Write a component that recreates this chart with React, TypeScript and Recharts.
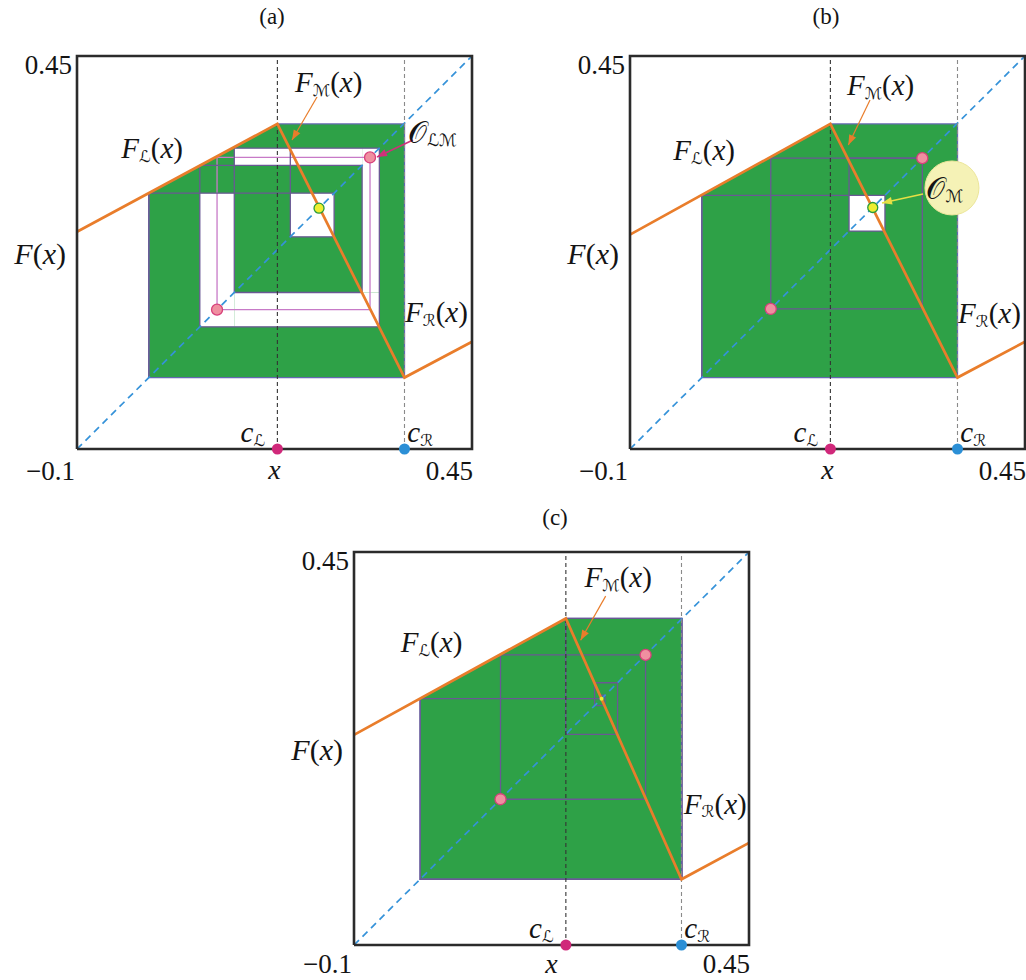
import React from 'react';
import { ComposedChart, XAxis, YAxis, Line, Area, Scatter } from 'recharts';

const DOMAIN: [number, number] = [-0.1, 0.45];
const xTicks = [-0.1, 0.45];
const yTicks = [0.45];

// ---- panel (a) ----
// graph vertices at x = -0.1, c_L, c_R, 0.45
const graphXA = [-0.1, 0.179, 0.356, 0.45];
const graphYA = [0.204, 0.355, 0.0, 0.05];
const bordersA = [0.179, 0.356]; // c_L, c_R
const absorbA = [0.0, 0.258, 0.355]; // F(c_R), F_L(F(c_R)), F(c_L)
const gapsA = [
  [0.197, 0.258, 0.197, 0.258],
  [0.071, 0.119, 0.071, 0.258],
  [0.119, 0.321, 0.071, 0.119],
  [0.297, 0.321, 0.119, 0.321],
  [0.119, 0.297, 0.297, 0.321],
];
const orbitA = [0.0, 0.258, 0.197, 0.321, 0.071, 0.297, 0.119, 0.321];
const cycleA = [0.095, 0.308];
const fixedA = [0.237];

// ---- panel (b) ----
const graphXB = [-0.1, 0.179, 0.356, 0.45];
const graphYB = [0.2, 0.355, 0.0, 0.05];
const bordersB = [0.179, 0.356];
const absorbB = [0.0, 0.2556, 0.355];
const gapsB = [[0.205, 0.255, 0.205, 0.255]];
const orbitB = [0.0, 0.255, 0.205, 0.307];
const cycleB = [0.096, 0.307];
const fixedB = [0.238];

// ---- panel (c) ----
const graphXC = [-0.1, 0.195, 0.356, 0.45];
const graphYC = [0.194, 0.357, -0.008, 0.043];
const bordersC = [0.195, 0.356];
const absorbC = [-0.008, 0.2447, 0.357];
const gapsC: number[][] = [];
const orbitC = [0.2426, 0.2495, 0.235, 0.267, 0.1947, 0.357, -0.008, 0.2447];
const cycleC = [0.104, 0.306];
const fixedC = [0.2447];

// annotation anchors, in axis units
const notesA = {
  fm: [0.2036, 0.4136], fmArrow: [0.2342, 0.3927, 0.1994, 0.3325],
  fl: [0.0476, 0.3213], fr: [0.3567, 0.0917],
  orb: [0.3609, 0.3437], orbArrow: [0.3678, 0.3325, 0.3177, 0.3087],
};
const notesB = {
  fm: [0.2021, 0.4094], fmArrow: [0.2342, 0.3885, 0.204, 0.3255],
  fl: [0.0462, 0.3185], fr: [0.3567, 0.0903],
  orb: [0.3128, 0.2653], orbArrow: [0.308, 0.2569, 0.2509, 0.2443],
  halo: [0.3483, 0.2653],
};
const notesC = {
  fm: [0.221, 0.415], fmArrow: [0.2504, 0.3883, 0.2155, 0.3266],
  fl: [0.0508, 0.3237], fr: [0.3592, 0.0978],
};

const FONT = "'Liberation Serif', 'DejaVu Serif', 'Times New Roman', serif";
const SCRIPT = "'DejaVu Serif', 'DejaVu Sans', serif";

const C = {
  green: '#2ea147',
  outline: '#6468b0',
  web: '#6a5894',
  webPink: '#c77ac7',
  orange: '#e97d2b',
  diag: '#3592d9',
  frame: '#2b2b2b',
  pinkFill: '#ef8fa0',
  pinkStroke: '#d8407a',
  yellow: '#eeee30',
  yellowStroke: '#2b9a3b',
  cL: '#d0287a',
  cR: '#2b8fd6',
  ink: '#141414',
};

type MathProps = {
  x: number; y: number; base: string; sub?: string; arg?: boolean;
  anchor?: 'start' | 'middle' | 'end'; size?: number; italic?: boolean; baseFont?: string;
};

function MathText({ x, y, base, sub, arg, anchor = 'start', size = 29, italic = true, baseFont }: MathProps) {
  const shift = size * 0.27;
  return (
    <text x={x} y={y} textAnchor={anchor} dominantBaseline="central" fontFamily={FONT} fontSize={size} fill={C.ink}>
      <tspan fontStyle={italic ? 'italic' : 'normal'} fontFamily={baseFont || FONT}>{base}</tspan>
      {sub ? (
        <tspan fontFamily={SCRIPT} fontSize={size * 0.56} dy={shift}>{sub}</tspan>
      ) : null}
      {arg ? (
        <>
          <tspan dy={sub ? -shift : 0}>(</tspan>
          <tspan fontStyle="italic">x</tspan>
          <tspan>)</tspan>
        </>
      ) : null}
    </text>
  );
}

const fmtTick = (v: number) => (v < 0 ? '\u2212' + Math.abs(v) : String(v));

const makeXTick = (dy: number) => (p: any) => {
  const v = p.payload.value;
  return (
    <text x={p.x + (v < 0 ? -2 : 1)} y={p.y + dy} textAnchor="end" dominantBaseline="central"
      fontFamily={FONT} fontSize={27} fill={C.ink}>{fmtTick(v)}</text>
  );
};

const yTick = (p: any) => (
  <text x={p.x - 5} y={p.y + 9} textAnchor="end" dominantBaseline="central"
    fontFamily={FONT} fontSize={27} fill={C.ink}>{fmtTick(p.payload.value)}</text>
);

const makeXLabel = (dy: number) => (p: any) => {
  const vb = p.viewBox || {};
  return (
    <text x={vb.x + vb.width / 2} y={vb.y + dy} textAnchor="middle" dominantBaseline="central"
      fontFamily={FONT} fontStyle="italic" fontSize={28} fill={C.ink}>x</text>
  );
};

const yLabel = (p: any) => {
  const vb = p.viewBox || {};
  return <MathText x={vb.x + vb.width - 11} y={vb.y + vb.height / 2} base="F" arg anchor="end" size={30} />;
};

function cobweb(orbit: number[]) {
  const pts = [{ x: orbit[0], y: orbit[0] }];
  for (let i = 0; i < orbit.length - 1; i++) {
    pts.push({ x: orbit[i], y: orbit[i + 1] });
    pts.push({ x: orbit[i + 1], y: orbit[i + 1] });
  }
  return pts;
}

function cycleSquare([a, b]: number[]) {
  return [
    { x: a, y: a }, { x: a, y: b }, { x: b, y: b }, { x: b, y: a }, { x: a, y: a },
  ];
}

function arrow(a: number[]) {
  const [x0, y0, x1, y1] = a;
  return {
    shaft: [{ x: x0, y: y0 }, { x: x1, y: y1 }],
    head: [{ x: x1, y: y1, ang: Math.atan2(-(y1 - y0), x1 - x0) }],
  };
}

const headShape = (color: string) => (p: any) => {
  const { cx, cy } = p;
  const a = (p.payload || p).ang;
  const L = 10, Wd = 3.8;
  const bx = cx - L * Math.cos(a), by = cy - L * Math.sin(a);
  const pts = `${cx},${cy} ${bx + Wd * Math.sin(a)},${by - Wd * Math.cos(a)} ${bx - Wd * Math.sin(a)},${by + Wd * Math.cos(a)}`;
  return <polygon points={pts} fill={color} stroke="none" />;
};

const dotShape = (fill: string, stroke: string, r: number, sw = 1.3) => (p: any) => (
  <circle cx={p.cx} cy={p.cy} r={r} fill={fill} stroke={stroke} strokeWidth={sw} />
);

const labelShape = (p: any) => {
  const d = p.payload || p;
  return (
    <MathText x={p.cx} y={p.cy} base={d.base} sub={d.sub} arg={d.arg} anchor={d.anchor}
      size={d.size} italic={d.italic !== false} baseFont={d.baseFont} />
  );
};

type PanelProps = {
  left: number; top: number; width: number; height: number; rightMargin: number; bottomMargin: number;
  tickDy: number; xLabelDy: number;
  title: string; titleX: number; titleY: number;
  graphX: number[]; graphY: number[]; borders: number[]; absorb: number[]; gaps: number[][];
  orbit: number[]; cycle: number[]; fixed: number[]; cycleColor: string; fixedR: number;
  notes: any; orbitLabel?: { sub: string; color: string };
};

function Panel(props: PanelProps) {
  const { graphX, graphY, borders, absorb, gaps, orbit, cycle, fixed, notes } = props;
  const [cL, cR] = borders;
  const [lo, leftTop, hi] = absorb;
  const graph = graphX.map((x, i) => ({ x, y: graphY[i] }));
  const green = [{ x: lo, y: [lo, leftTop] }, { x: cL, y: [lo, hi] }, { x: cR, y: [lo, hi] }];
  const outline = [{ x: cL, y: hi }, { x: cR, y: hi }, { x: cR, y: lo }, { x: lo, y: lo }, { x: lo, y: leftTop }];
  const holes = gaps.map(([x1, x2, y1, y2]) => [{ x: x1, y: [y1, y2] }, { x: x2, y: [y1, y2] }]);
  const web = cobweb(orbit);
  const square = cycleSquare(cycle);
  const diag = [{ x: DOMAIN[0], y: DOMAIN[0] }, { x: DOMAIN[1], y: DOMAIN[1] }];
  const vL = [{ x: cL, y: DOMAIN[0] }, { x: cL, y: DOMAIN[1] }];
  const vR = [{ x: cR, y: DOMAIN[0] }, { x: cR, y: DOMAIN[1] }];
  const frame = [
    { x: DOMAIN[0], y: DOMAIN[0] }, { x: DOMAIN[1], y: DOMAIN[0] }, { x: DOMAIN[1], y: DOMAIN[1] },
    { x: DOMAIN[0], y: DOMAIN[1] }, { x: DOMAIN[0], y: DOMAIN[0] },
  ];
  const fmA = arrow(notes.fmArrow);
  const orbA = notes.orbArrow ? arrow(notes.orbArrow) : null;
  const cyclePts = cycle.map((v) => ({ x: v, y: v }));
  const fixedPts = fixed.map((v) => ({ x: v, y: v }));
  const labels: any[] = [
    { x: notes.fm[0], y: notes.fm[1], base: 'F', sub: '\u2133', arg: true, anchor: 'start', size: 29 },
    { x: notes.fl[0], y: notes.fl[1], base: 'F', sub: '\u2112', arg: true, anchor: 'end', size: 29 },
    { x: notes.fr[0], y: notes.fr[1], base: 'F', sub: '\u211B', arg: true, anchor: 'start', size: 29 },
    { x: cL - 0.017, y: -0.0765, base: 'c', sub: '\u2112', anchor: 'end', size: 29 },
    { x: cR + 0.004, y: -0.0765, base: 'c', sub: '\u211B', anchor: 'start', size: 29 },
  ];
  if (props.orbitLabel) {
    labels.push({
      x: notes.orb[0], y: notes.orb[1], base: '\uD835\uDCAA', sub: props.orbitLabel.sub,
      anchor: 'start', size: 30, italic: false, baseFont: "'DejaVu Sans', 'DejaVu Serif', serif",
    });
  }
  const noLine = { dot: false as const, activeDot: false as const, isAnimationActive: false, type: 'linear' as const };

  return (
    <div style={{ position: 'absolute', left: props.left, top: props.top }}>
      <div style={{
        position: 'absolute', left: props.titleX - 40, top: props.titleY - 13, width: 80, height: 26,
        textAlign: 'center', lineHeight: '26px', fontFamily: FONT, fontSize: 23, color: C.ink,
      }}>{props.title}</div>
      <ComposedChart width={props.width} height={props.height}
        margin={{ top: 56, right: props.rightMargin, bottom: props.bottomMargin, left: 17 }}>
        <XAxis type="number" dataKey="x" domain={DOMAIN} ticks={xTicks} interval={0} tick={makeXTick(props.tickDy)}
          tickLine={false} axisLine={false} tickSize={0} tickMargin={0} height={30}
          label={{ content: makeXLabel(props.xLabelDy) }} />
        <YAxis type="number" dataKey="y" domain={DOMAIN} ticks={yTicks} interval={0} tick={yTick}
          tickLine={false} axisLine={false} tickSize={0} tickMargin={0} width={60}
          label={{ content: yLabel }} />

        <Area data={green} dataKey="y" type="linear" fill={C.green} fillOpacity={1} stroke="none"
          isAnimationActive={false} activeDot={false} dot={false} />
        {holes.map((h, i) => (
          <Area key={`hole-${i}`} data={h} dataKey="y" type="linear" fill="#ffffff" fillOpacity={1}
            stroke="none" isAnimationActive={false} activeDot={false} dot={false} />
        ))}

        <Line data={outline} dataKey="y" stroke={C.outline} strokeWidth={1.3} {...noLine} />
        <Line data={square} dataKey="y" stroke={props.cycleColor} strokeWidth={1.3} {...noLine} />
        <Line data={web} dataKey="y" stroke={C.web} strokeWidth={1.3} {...noLine} />
        <Line data={diag} dataKey="y" stroke={C.diag} strokeWidth={1.7} strokeDasharray="7 5" {...noLine} />
        <Line data={vL} dataKey="y" stroke="#333333" strokeWidth={1.1} strokeDasharray="4 3" {...noLine} />
        <Line data={vR} dataKey="y" stroke="#8a8a8a" strokeWidth={1.1} strokeDasharray="4 3" {...noLine} />
        <Line data={graph} dataKey="y" stroke={C.orange} strokeWidth={2.7} {...noLine} />
        <Line data={fmA.shaft} dataKey="y" stroke={C.orange} strokeWidth={1.2} {...noLine} />
        {orbA && props.orbitLabel ? (
          <Line data={orbA.shaft} dataKey="y" stroke={props.orbitLabel.color} strokeWidth={1.6} {...noLine} />
        ) : null}
        <Line data={frame} dataKey="y" stroke={C.frame} strokeWidth={2.6} strokeLinejoin="miter" {...noLine} />

        {notes.halo ? (
          <Scatter data={[{ x: notes.halo[0], y: notes.halo[1] }]} isAnimationActive={false}
            shape={dotShape('#f5f2b6', '#ece69a', 27, 1)} />
        ) : null}
        <Scatter data={fmA.head} isAnimationActive={false} shape={headShape(C.orange)} />
        {orbA && props.orbitLabel ? (
          <Scatter data={orbA.head} isAnimationActive={false} shape={headShape(props.orbitLabel.color)} />
        ) : null}
        <Scatter data={cyclePts} isAnimationActive={false} shape={dotShape(C.pinkFill, C.pinkStroke, 5.5)} />
        <Scatter data={fixedPts} isAnimationActive={false}
          shape={dotShape(C.yellow, C.yellowStroke, props.fixedR, props.fixedR > 3 ? 1.3 : 0)} />
        <Scatter data={[{ x: cL, y: DOMAIN[0] }]} isAnimationActive={false} shape={dotShape(C.cL, C.cL, 5.5, 0)} />
        <Scatter data={[{ x: cR, y: DOMAIN[0] }]} isAnimationActive={false} shape={dotShape(C.cR, C.cR, 5.5, 0)} />
        <Scatter data={labels} isAnimationActive={false} shape={labelShape} />
      </ComposedChart>
    </div>
  );
}

export default function App() {
  return (
    <div style={{ position: 'absolute', left: 0, top: 0, width: 1026, height: 980, background: '#ffffff', overflow: 'hidden' }}>
      <Panel left={0} top={0} width={490} height={492} rightMargin={18} bottomMargin={13}
        tickDy={22} xLabelDy={20} title="(a)" titleX={272} titleY={17}
        graphX={graphXA} graphY={graphYA} borders={bordersA} absorb={absorbA} gaps={gapsA}
        orbit={orbitA} cycle={cycleA} fixed={fixedA} cycleColor={C.webPink} fixedR={5}
        notes={notesA} orbitLabel={{ sub: '\u2112\u2133', color: '#d0307a' }} />
      <Panel left={553} top={0} width={473} height={492} rightMargin={1} bottomMargin={13}
        tickDy={22} xLabelDy={20} title="(b)" titleX={273} titleY={17}
        graphX={graphXB} graphY={graphYB} borders={bordersB} absorb={absorbB} gaps={gapsB}
        orbit={orbitB} cycle={cycleB} fixed={fixedB} cycleColor={C.web} fixedR={5}
        notes={notesB} orbitLabel={{ sub: '\u2133', color: '#e6df45' }} />
      <Panel left={277} top={496} width={490} height={484} rightMargin={18} bottomMargin={5}
        tickDy={19} xLabelDy={18} title="(c)" titleX={278} titleY={22}
        graphX={graphXC} graphY={graphYC} borders={bordersC} absorb={absorbC} gaps={gapsC}
        orbit={orbitC} cycle={cycleC} fixed={fixedC} cycleColor={C.web} fixedR={2}
        notes={notesC} />
    </div>
  );
}
